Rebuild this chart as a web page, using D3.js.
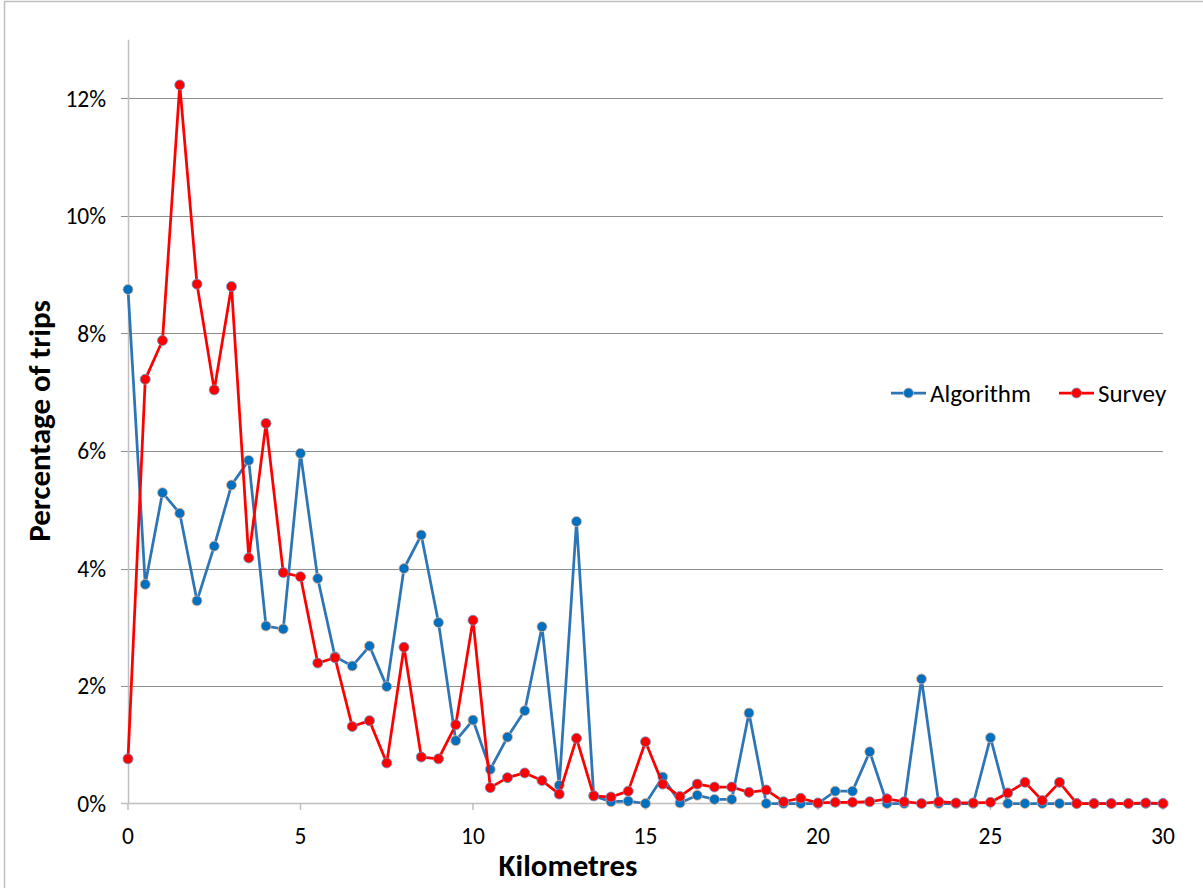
<!DOCTYPE html>
<html><head><meta charset="utf-8">
<script src="https://cdn.jsdelivr.net/npm/d3@7"></script>
<style>
html,body{margin:0;padding:0;background:#fff;}
svg text{font-family:Carlito,Lato,"Open Sans",sans-serif;}
</style></head>
<body><svg id="c" width="1203" height="888"></svg>
<script>
const distances = d3.range(0, 30.001, 0.5);
const algorithm = [8.75,3.73,5.29,4.94,3.45,4.38,5.42,5.84,3.02,2.97,5.96,3.83,2.50,2.34,2.68,1.99,4.00,4.57,3.08,1.07,1.42,0.58,1.13,1.58,3.01,0.31,4.80,0.13,0.03,0.04,0.00,0.45,0.01,0.14,0.07,0.07,1.54,0.00,0.00,0.00,0.00,0.21,0.21,0.88,0.00,0.00,2.12,0.00,0.00,0.00,1.12,0.00,0.00,0.00,0.00,0.00,0.00,0.00,0.00,0.00,0.00];
const survey = [0.76,7.22,7.88,12.23,8.84,7.04,8.80,4.18,6.47,3.93,3.86,2.39,2.48,1.31,1.41,0.69,2.66,0.79,0.76,1.34,3.12,0.27,0.44,0.52,0.39,0.16,1.11,0.13,0.11,0.21,1.05,0.33,0.12,0.33,0.28,0.28,0.19,0.23,0.03,0.09,0.01,0.02,0.02,0.03,0.08,0.03,0.00,0.03,0.01,0.01,0.02,0.18,0.36,0.05,0.36,0.00,0.00,0.00,0.00,0.01,0.00];
const yTicks = [0,2,4,6,8,10,12];
const xTicks = [0,5,10,15,20,25,30];
const seriesNames = ["Algorithm","Survey"];

const svg = d3.select("#c");
const x = d3.scaleLinear().domain([0,30]).range([128,1163]);
const y = d3.scaleLinear().domain([0,13]).range([803.5,39.75]);

// outer chart border
svg.append("rect").attr("x",4.5).attr("y",1.5).attr("width",1230).attr("height",920)
  .attr("fill","none").attr("stroke","#bfbfbf").attr("stroke-width",1.5);

// gridlines
svg.append("g").selectAll("line").data(yTicks.filter(d=>d>0)).join("line")
  .attr("x1",121).attr("x2",1163).attr("y1",d=>Math.round(y(d))+0.5).attr("y2",d=>Math.round(y(d))+0.5)
  .attr("stroke","#8e8e8e").attr("stroke-width",1);
// y axis line
svg.append("line").attr("x1",128.5).attr("x2",128.5).attr("y1",y(13)).attr("y2",y(0))
  .attr("stroke","#bfbfbf").attr("stroke-width",1.5);
// x axis line
svg.append("line").attr("x1",121).attr("x2",1163).attr("y1",803.5).attr("y2",803.5)
  .attr("stroke","#bfbfbf").attr("stroke-width",1.5);
// x ticks
svg.append("g").selectAll("line").data(xTicks).join("line")
  .attr("x1",d=>x(d)).attr("x2",d=>x(d)).attr("y1",803.5).attr("y2",810)
  .attr("stroke","#bfbfbf").attr("stroke-width",1.5);

// y tick labels
svg.append("g").selectAll("text").data(yTicks).join("text")
  .attr("x",106).attr("y",d=>y(d)).attr("dy","0.36em").attr("text-anchor","end")
  .attr("font-size",23.5).attr("fill","#000").text(d=>d+"%");
// x tick labels
svg.append("g").selectAll("text").data(xTicks).join("text")
  .attr("x",d=>x(d)).attr("y",844).attr("text-anchor","middle")
  .attr("font-size",23.5).attr("fill","#000").text(d=>d);

// axis titles
svg.append("text").attr("x",568).attr("y",876).attr("text-anchor","middle")
  .attr("font-size",31).attr("font-weight","bold").text("Kilometres");
svg.append("text").attr("transform","translate(50,421) rotate(-90)").attr("text-anchor","middle")
  .attr("font-size",31).attr("font-weight","bold").text("Percentage of trips");

const styles = [
  {line:"#2e75b6", fill:"#0070c0", stroke:"#f4b183"},
  {line:"#ff0000", fill:"#ff0000", stroke:"#5b9bd5"}
];
const dataSets = [algorithm, survey];
const lineGen = d3.line().x((d,i)=>x(distances[i])).y(d=>y(d));

dataSets.forEach((vals,k)=>{
  const s = styles[k];
  svg.append("path").datum(vals).attr("d",lineGen).attr("fill","none")
    .attr("stroke",s.line).attr("stroke-width",2.75).attr("stroke-linejoin","round");
  svg.append("g").selectAll("circle").data(vals).join("circle")
    .attr("cx",(d,i)=>x(distances[i])).attr("cy",d=>y(d)).attr("r",5)
    .attr("fill",s.fill).attr("stroke",s.stroke).attr("stroke-width",0.8);
});

// legend
const legX = [891, 1059];
seriesNames.forEach((n,k)=>{
  const s = styles[k];
  const g = svg.append("g");
  g.append("line").attr("x1",legX[k]).attr("x2",legX[k]+35).attr("y1",393).attr("y2",393)
    .attr("stroke",s.line).attr("stroke-width",2.75);
  g.append("circle").attr("cx",legX[k]+17.5).attr("cy",393).attr("r",5)
    .attr("fill",s.fill).attr("stroke",s.stroke).attr("stroke-width",0.8);
  g.append("text").attr("x",legX[k]+39).attr("y",393).attr("dy","0.36em")
    .attr("font-size",25).attr("fill","#000").text(n);
});
</script></body></html>
